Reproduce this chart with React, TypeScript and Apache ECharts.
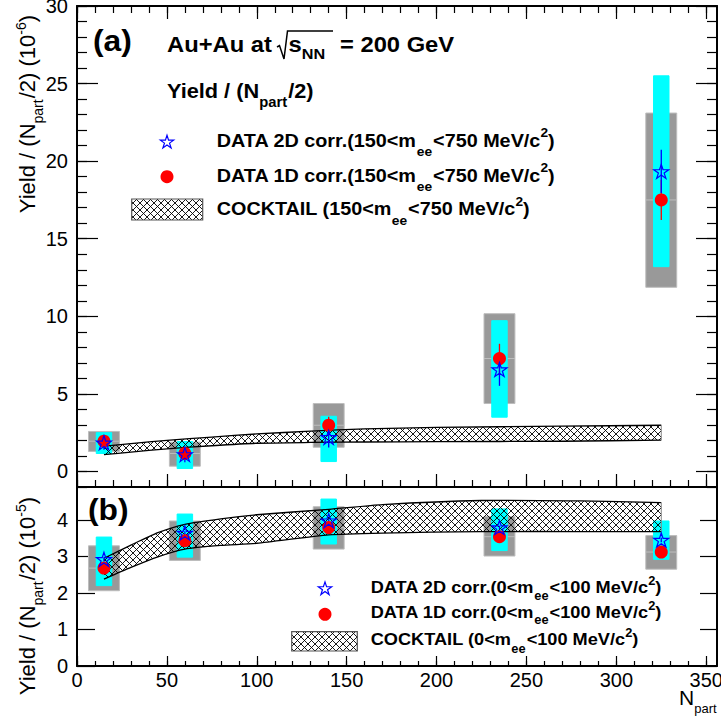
import React, { useEffect, useRef } from 'react';
import * as echarts from 'echarts';

// ---------- data ----------
const nPart = [15, 60, 140, 235, 325];

// panel (a): 150 < m_ee < 750 MeV/c^2, units of 1e-6
const a2D = [1.85, 1.1, 2.2, 6.57, 19.34];
const a2DErr = [0.45, 0.5, 0.65, 1.05, 1.4];
const a2DSysLo = [1.16, 0.19, 0.64, 3.5, 13.2];
const a2DSysHi = [2.5, 1.93, 3.56, 9.72, 25.5];
const a1D = [1.95, 1.16, 2.98, 7.28, 17.5];
const a1DErr = [0.35, 0.4, 0.55, 0.95, 1.3];
const a1DSysLo = [1.29, 0.34, 1.56, 4.38, 11.87];
const a1DSysHi = [2.58, 1.89, 4.38, 10.17, 23.1];
const aCockX = [15, 30, 50, 75, 100, 130, 160, 200, 270, 325];
const aCockHi = [1.63, 1.8, 2.0, 2.22, 2.42, 2.6, 2.75, 2.84, 2.92, 2.98];
const aCockLo = [1.09, 1.25, 1.46, 1.66, 1.82, 1.87, 1.9, 1.92, 1.95, 2.02];

// panel (b): 0 < m_ee < 100 MeV/c^2, units of 1e-5
const b2D = [2.92, 3.64, 3.98, 3.79, 3.45];
const b2DErr = [0.06, 0.05, 0.05, 0.05, 0.06];
const b2DSysLo = [2.2, 2.98, 3.34, 3.16, 2.92];
const b2DSysHi = [3.53, 4.16, 4.57, 4.3, 3.97];
const b1D = [2.68, 3.43, 3.79, 3.54, 3.12];
const b1DErr = [0.05, 0.05, 0.05, 0.05, 0.05];
const b1DSysLo = [2.06, 2.89, 3.2, 3.01, 2.65];
const b1DSysHi = [3.29, 3.97, 4.36, 4.09, 3.57];
const bCockX = [15, 30, 45, 60, 80, 100, 140, 170, 225, 280, 325];
const bCockHi = [2.95, 3.31, 3.65, 3.88, 4.03, 4.14, 4.29, 4.42, 4.53, 4.52, 4.47];
const bCockLo = [2.38, 2.7, 2.99, 3.2, 3.3, 3.36, 3.59, 3.64, 3.68, 3.68, 3.68];

// ticks
const xMajor = [0, 50, 100, 150, 200, 250, 300, 350];
const xMinor = Array.from({ length: 36 }, (_, i) => i * 10);
const aYMajor = [0, 5, 10, 15, 20, 25, 30];
const aYMinor = Array.from({ length: 32 }, (_, i) => i - 1);
const bYMajor = [0, 1, 2, 3, 4];

const X_MIN = 0;
const X_MAX = 356;
const A_MIN = -1;
const A_MAX = 30;
const B_MIN = 0;
const B_MAX = 4.9;

const GRAY_HALF = 8.6;
const CYAN_HALF = 4.3;

const FONT_NAME = 'Liberation Sans';
const FONT = '"Liberation Sans", Arial, Helvetica, sans-serif';
const STAR = 'path://M0,-1L0.2245,-0.309L0.951,-0.309L0.363,0.118L0.588,0.809L0,0.382L-0.588,0.809L-0.363,0.118L-0.951,-0.309L-0.2245,-0.309Z';
const MID_TO_BASE = 0.3465;

let measureCtx: CanvasRenderingContext2D | null = null;
function measure(text: string, size: number, bold: boolean): number {
  if (!measureCtx) {
    measureCtx = (document.createElement('canvas').getContext('2d')) as CanvasRenderingContext2D;
  }
  measureCtx.font = `${bold ? 'bold ' : ''}${size}px "${FONT_NAME}"`;
  return measureCtx.measureText(text).width;
}

type Fmt = { F: number; f: number; dSub: number; dSup: number; bold: boolean; scaleX: number };

// Lays out "{t|..}{s|..}{p|..}" markup as separate text pieces, baseline at local y = 0,
// starting at local x = 0. Returns children and total width.
function layout(markup: string, fmt: Fmt): { children: any[]; width: number } {
  const re = /\{(\w)\|([^}]*)\}/g;
  const children: any[] = [];
  let cursor = 0;
  let m: RegExpExecArray | null;
  while ((m = re.exec(markup)) !== null) {
    const kind = m[1];
    const txt = m[2];
    const size = kind === 't' ? fmt.F : fmt.f;
    const dy = kind === 's' ? fmt.dSub : kind === 'p' ? -fmt.dSup : 0;
    const w = measure(txt, size, fmt.bold) * fmt.scaleX;
    children.push({
      type: 'text',
      x: cursor,
      y: dy - MID_TO_BASE * size,
      scaleX: fmt.scaleX,
      silent: true,
      style: {
        text: txt,
        fontSize: size,
        fontWeight: fmt.bold ? 'bold' : 'normal',
        fontFamily: FONT,
        fill: '#000',
        align: 'left',
        verticalAlign: 'middle',
      },
    });
    cursor += w + (kind === 's' ? 1 : 0);
  }
  return { children, width: cursor };
}

function textAt(markup: string, x: number, baseline: number, fmt: Fmt): any {
  const { children } = layout(markup, fmt);
  return { type: 'group', x, y: baseline, silent: true, children };
}

// vertical text reading bottom-to-top; its end (top) at topY, baseline at screen x = bx
function vTextAt(markup: string, bx: number, topY: number, fmt: Fmt): any {
  const { children, width } = layout(markup, fmt);
  children.forEach((c) => (c.x -= width));
  return { type: 'group', x: bx, y: topY, rotation: Math.PI / 2, silent: true, children };
}

function starPoints(cx: number, cy: number, R: number): number[][] {
  const pts: number[][] = [];
  const r = R * 0.382;
  for (let i = 0; i < 10; i++) {
    const ang = -Math.PI / 2 + (i * Math.PI) / 5;
    const rad = i % 2 === 0 ? R : r;
    pts.push([cx + rad * Math.cos(ang), cy + rad * Math.sin(ang)]);
  }
  return pts;
}

export default function App() {
  const ref = useRef<HTMLDivElement>(null);

  useEffect(() => {
    document.body.style.margin = '0';
    const chart = echarts.init(ref.current as HTMLDivElement, null, { renderer: 'svg' });

    const cv = document.createElement('canvas');
    cv.width = 7;
    cv.height = 7;
    const ctx = cv.getContext('2d') as CanvasRenderingContext2D;
    ctx.strokeStyle = '#000';
    ctx.lineWidth = 0.9;
    ctx.beginPath();
    ctx.moveTo(-1, -1);
    ctx.lineTo(8, 8);
    ctx.moveTo(8, -1);
    ctx.lineTo(-1, 8);
    ctx.stroke();
    const hatch: any = { image: cv.toDataURL(), repeat: 'repeat', imageWidth: 7, imageHeight: 7 };

    const axisLineOn = { show: true, onZero: false, lineStyle: { color: '#000', width: 2 } };
    const axisLineOff = { show: false, onZero: false };
    const tick = (len: number, vals: number[]) => ({
      show: true,
      inside: true,
      length: len,
      customValues: vals,
      lineStyle: { color: '#000', width: 1.2 },
    });
    const label = (vals: number[], margin: number) => ({
      show: true,
      customValues: vals,
      fontSize: 20,
      fontFamily: FONT,
      color: '#000',
      margin,
      showMinLabel: true,
      showMaxLabel: true,
    });
    const xAx = (grid: number, pos: string, line: any, tk: any, lb: any) => ({
      type: 'value',
      gridIndex: grid,
      position: pos,
      min: X_MIN,
      max: X_MAX,
      axisLine: line,
      axisTick: tk,
      axisLabel: lb,
      splitLine: { show: false },
      minorTick: { show: false },
    });
    const yAx = (grid: number, pos: string, mn: number, mx: number, line: any, tk: any, lb: any) => ({
      type: 'value',
      gridIndex: grid,
      position: pos,
      min: mn,
      max: mx,
      axisLine: line,
      axisTick: tk,
      axisLabel: lb,
      splitLine: { show: false },
      minorTick: { show: false },
    });

    const boxSeries = (xi: number, yi: number, lo: number[], mid: number[], hi: number[], half: number, fill: string, stroke: string, midLine: boolean) => ({
      type: 'custom',
      xAxisIndex: xi,
      yAxisIndex: yi,
      silent: true,
      data: nPart.map((x, i) => [x, lo[i], mid[i], hi[i]]),
      renderItem: (params: any, api: any) => {
        const x = api.value(0);
        const l = api.value(1);
        const m = api.value(2);
        const h = api.value(3);
        const p1 = api.coord([x - half, h]);
        const p2 = api.coord([x + half, l]);
        const children: any[] = [
          {
            type: 'rect',
            shape: { x: p1[0], y: p1[1], width: p2[0] - p1[0], height: p2[1] - p1[1] },
            style: { fill, stroke, lineWidth: 1 },
          },
        ];
        if (midLine) {
          const pm = api.coord([x, m]);
          children.push({
            type: 'line',
            shape: { x1: p1[0], y1: pm[1], x2: p2[0], y2: pm[1] },
            style: { stroke, lineWidth: 1 },
          });
        }
        return { type: 'group', children };
      },
    });

    const bandSeries = (xi: number, yi: number, xs: number[], hi: number[], lo: number[]) => ({
      type: 'custom',
      xAxisIndex: xi,
      yAxisIndex: yi,
      silent: true,
      data: [[xs[0], lo[0]]],
      renderItem: (params: any, api: any) => {
        const up = xs.map((x, i) => api.coord([x, hi[i]]));
        const dn = xs.map((x, i) => api.coord([x, lo[i]]));
        const last = xs.length - 1;
        return {
          type: 'group',
          children: [
            { type: 'polygon', shape: { points: up.concat(dn.slice().reverse()) }, style: { fill: hatch, stroke: null } },
            { type: 'polyline', shape: { points: up, smooth: 0.2 }, style: { stroke: '#000', lineWidth: 1.3, fill: null } },
            { type: 'polyline', shape: { points: dn, smooth: 0.2 }, style: { stroke: '#000', lineWidth: 1.3, fill: null } },
            { type: 'line', shape: { x1: up[last][0], y1: up[last][1], x2: dn[last][0], y2: dn[last][1] }, style: { stroke: '#888', lineWidth: 1 } },
          ],
        };
      },
    });

    const errSeries = (xi: number, yi: number, ys: number[], es: number[], color: string) => ({
      type: 'custom',
      xAxisIndex: xi,
      yAxisIndex: yi,
      silent: true,
      data: nPart.map((x, i) => [x, ys[i], es[i]]),
      renderItem: (params: any, api: any) => {
        const x = api.value(0);
        const y = api.value(1);
        const e = api.value(2);
        const p1 = api.coord([x, y + e]);
        const p2 = api.coord([x, y - e]);
        return { type: 'line', shape: { x1: p1[0], y1: p1[1], x2: p2[0], y2: p2[1] }, style: { stroke: color, lineWidth: 1.3 } };
      },
    });

    const circleSeries = (xi: number, yi: number, ys: number[]) => ({
      type: 'scatter',
      xAxisIndex: xi,
      yAxisIndex: yi,
      silent: true,
      symbol: 'circle',
      symbolSize: 13,
      itemStyle: { color: '#ff0000', opacity: 1 },
      data: nPart.map((x, i) => [x, ys[i]]),
    });

    const starSeries = (xi: number, yi: number, ys: number[]) => ({
      type: 'scatter',
      xAxisIndex: xi,
      yAxisIndex: yi,
      silent: true,
      symbol: STAR,
      symbolSize: [15, 14],
      itemStyle: { color: 'rgba(0,0,0,0)', borderColor: '#0000ff', borderWidth: 1.2, opacity: 1 },
      data: nPart.map((x, i) => [x, ys[i]]),
    });

    const fPanel: Fmt = { F: 30, f: 14, dSub: 0, dSup: 0, bold: true, scaleX: 1.06 };
    const fTitle: Fmt = { F: 22, f: 15, dSub: 7, dSup: 9, bold: true, scaleX: 1.08 };
    const fYield: Fmt = { F: 20.5, f: 14, dSub: 9, dSup: 9, bold: true, scaleX: 1.06 };
    const fLegA: Fmt = { F: 18, f: 12.5, dSub: 9, dSup: 9.4, bold: true, scaleX: 1.1 };
    const fLegA3: Fmt = { ...fLegA, dSub: 10 };
    const fLegB: Fmt = { F: 17, f: 12, dSub: 6.5, dSup: 7.7, bold: true, scaleX: 1.07 };
    const fLegB3: Fmt = { ...fLegB, dSub: 8 };
    const fAxis: Fmt = { F: 22, f: 14, dSub: 8, dSup: 9, bold: false, scaleX: 1 };
    const fNpart: Fmt = { F: 21, f: 13, dSub: 8, dSup: 9, bold: false, scaleX: 1 };

    const graphic: any[] = [
      // panel labels
      textAt('{t|(a)}', 93, 51.7, fPanel),
      textAt('{t|(b)}', 88, 520.4, fPanel),
      // title
      textAt('{t|Au+Au at}', 167, 51.5, fTitle),
      textAt('{t|s}{s|NN}', 288.5, 51.5, fTitle),
      textAt('{t|= 200 GeV}', 340, 51.5, fTitle),
      {
        type: 'polyline',
        silent: true,
        shape: { points: [[277, 47], [279.5, 45.5], [284, 59], [287.5, 31], [333, 31]] },
        style: { stroke: '#000', lineWidth: 1.5, fill: 'none' },
      },
      textAt('{t|Yield / (N}{s|part}{t|/2)}', 167, 97.7, fYield),
      // top legend
      { type: 'polygon', silent: true, shape: { points: starPoints(167, 142.3, 7) }, style: { fill: 'none', stroke: '#0000ff', lineWidth: 1.2 } },
      { type: 'circle', silent: true, shape: { cx: 167, cy: 176.7, r: 6.5 }, style: { fill: '#ff0000' } },
      { type: 'rect', silent: true, shape: { x: 131.7, y: 199, width: 71, height: 21 }, style: { fill: '#fff', stroke: null } },
      { type: 'rect', silent: true, shape: { x: 131.7, y: 199, width: 71, height: 21 }, style: { fill: hatch, stroke: '#555', lineWidth: 1.2 } },
      textAt('{t|DATA 2D corr.(150<m}{s|ee}{t|<750 MeV/c}{p|2}{t|)}', 216.7, 146.7, fLegA),
      textAt('{t|DATA 1D corr.(150<m}{s|ee}{t|<750 MeV/c}{p|2}{t|)}', 216.7, 181.7, fLegA),
      textAt('{t|COCKTAIL (150<m}{s|ee}{t|<750 MeV/c}{p|2}{t|)}', 216.7, 215, fLegA3),
      // bottom legend
      { type: 'polygon', silent: true, shape: { points: starPoints(325, 588.9, 7) }, style: { fill: 'none', stroke: '#0000ff', lineWidth: 1.2 } },
      { type: 'circle', silent: true, shape: { cx: 325, cy: 614.3, r: 6.5 }, style: { fill: '#ff0000' } },
      { type: 'rect', silent: true, shape: { x: 291.7, y: 631.7, width: 65.6, height: 19.3 }, style: { fill: '#fff', stroke: null } },
      { type: 'rect', silent: true, shape: { x: 291.7, y: 631.7, width: 65.6, height: 19.3 }, style: { fill: hatch, stroke: '#555', lineWidth: 1.2 } },
      textAt('{t|DATA 2D corr.(0<m}{s|ee}{t|<100 MeV/c}{p|2}{t|)}', 370.7, 593.3, fLegB),
      textAt('{t|DATA 1D corr.(0<m}{s|ee}{t|<100 MeV/c}{p|2}{t|)}', 370.7, 617.7, fLegB),
      textAt('{t|COCKTAIL (0<m}{s|ee}{t|<100 MeV/c}{p|2}{t|)}', 370.7, 645, fLegB3),
      // axis titles
      vTextAt('{t|Yield / (N}{s|part}{t|/2) (10}{p|-6}{t|)}', 35, 15, fAxis),
      vTextAt('{t|Yield / (N}{s|part}{t|/2) (10}{p|-5}{t|)}', 35, 497, fAxis),
      textAt('{t|N}{s|part}', 679, 705, fNpart),
    ];

    const option: any = {
      animation: false,
      backgroundColor: '#fff',
      grid: [
        { left: 77, top: 6, width: 640, height: 481, outerBoundsMode: 'none', containLabel: false },
        { left: 77, top: 487, width: 640, height: 179, outerBoundsMode: 'none', containLabel: false },
      ],
      xAxis: [
        xAx(0, 'bottom', axisLineOn, tick(13, xMajor), { show: false }),
        xAx(0, 'bottom', axisLineOff, tick(7, xMinor), { show: false }),
        xAx(0, 'top', axisLineOn, tick(13, xMajor), { show: false }),
        xAx(0, 'top', axisLineOff, tick(7, xMinor), { show: false }),
        xAx(1, 'bottom', axisLineOn, tick(10, xMajor), label(xMajor, 4)),
        xAx(1, 'bottom', axisLineOff, tick(5, xMinor), { show: false }),
      ],
      yAxis: [
        yAx(0, 'left', A_MIN, A_MAX, axisLineOn, tick(21, aYMajor), label(aYMajor, 9)),
        yAx(0, 'left', A_MIN, A_MAX, axisLineOff, tick(10, aYMinor), { show: false }),
        yAx(0, 'right', A_MIN, A_MAX, axisLineOn, tick(21, aYMajor), { show: false }),
        yAx(0, 'right', A_MIN, A_MAX, axisLineOff, tick(10, aYMinor), { show: false }),
        yAx(1, 'left', B_MIN, B_MAX, axisLineOn, tick(18, bYMajor), label(bYMajor, 9)),
        yAx(1, 'right', B_MIN, B_MAX, axisLineOn, tick(17, bYMajor), { show: false }),
      ],
      series: [
        boxSeries(0, 0, a1DSysLo, a1D, a1DSysHi, GRAY_HALF, '#999999', '#bdbdbd', true),
        boxSeries(0, 0, a2DSysLo, a2D, a2DSysHi, CYAN_HALF, '#00ffff', '#00ffff', false),
        bandSeries(0, 0, aCockX, aCockHi, aCockLo),
        errSeries(0, 0, a1D, a1DErr, '#ff0000'),
        circleSeries(0, 0, a1D),
        errSeries(0, 0, a2D, a2DErr, '#0000ff'),
        starSeries(0, 0, a2D),
        boxSeries(4, 4, b1DSysLo, b1D, b1DSysHi, GRAY_HALF, '#999999', '#bdbdbd', true),
        boxSeries(4, 4, b2DSysLo, b2D, b2DSysHi, CYAN_HALF, '#00ffff', '#00ffff', false),
        bandSeries(4, 4, bCockX, bCockHi, bCockLo),
        errSeries(4, 4, b1D, b1DErr, '#ff0000'),
        circleSeries(4, 4, b1D),
        errSeries(4, 4, b2D, b2DErr, '#0000ff'),
        starSeries(4, 4, b2D),
      ],
      graphic,
    };

    chart.setOption(option);
    return () => {
      chart.dispose();
    };
  }, []);

  return <div ref={ref} style={{ width: 721, height: 719 }} />;
}
